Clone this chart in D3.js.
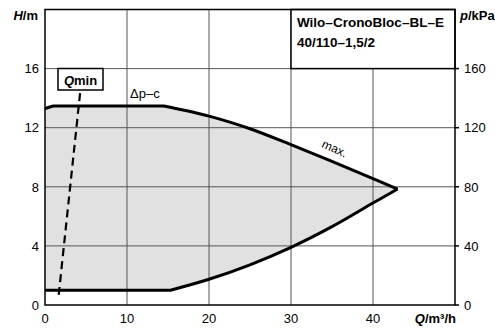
<!DOCTYPE html>
<html>
<head>
<meta charset="utf-8">
<script src="https://cdn.jsdelivr.net/npm/d3@7"></script>
<style>
  body { margin: 0; background: #fff; }
  svg { display: block; font-family: "Liberation Sans", Arial, sans-serif; }
</style>
</head>
<body>
<div id="chart"></div>
<script>
// Data
const xTicks = [0, 10, 20, 30, 40];
const yTicks = [0, 4, 8, 12, 16];
const pTicks = [0, 40, 80, 120, 160];

// Δp-c plateau (straight part of the upper boundary)
const dpcQ = [0, 1, 14.5];
const dpcH = [13.3, 13.47, 13.47];
// max. curve (curved part of the upper boundary)
const maxQ = [14.5, 17, 20, 25, 30, 35, 40, 43];
const maxH = [13.47, 13.18, 12.78, 11.93, 10.85, 9.72, 8.55, 7.85];
// min speed: flat part + curve
const minFlatQ = [0, 15.3];
const minFlatH = [1.0, 1.0];
const minQ = [15.3, 20, 25, 30, 35, 40, 43];
const minH = [1.0, 1.74, 2.72, 3.9, 5.3, 6.9, 7.85];
// Qmin line
const qminQ = [1.67, 4.3];
const qminH = [0.68, 14.45];

const title = ['Wilo–CronoBloc–BL–E', '40/110–1,5/2'];

// Dimensions
const width = 495, height = 329;
const margin = { top: 9.5, right: 40, bottom: 24, left: 45 };

const svg = d3.select('#chart')
    .append('svg')
    .attr('width', width)
    .attr('height', height);

const xScale = d3.scaleLinear().domain([0, 50]).range([margin.left, width - margin.right]);
const yScale = d3.scaleLinear().domain([0, 20]).range([height - margin.bottom, margin.top]);
const pScale = d3.scaleLinear().domain([0, 200]).range([height - margin.bottom, margin.top]);

const pts = (qs, hs) => qs.map((q, i) => [q, hs[i]]);
const straight = d3.line().x(d => xScale(d[0])).y(d => yScale(d[1]));
const smooth = d3.line().x(d => xScale(d[0])).y(d => yScale(d[1])).curve(d3.curveCatmullRom.alpha(0.5));

// join a straight piece and a curved piece into one path string
const joined = (a, b) => a + 'L' + b.slice(1);

const upperPath = joined(straight(pts(dpcQ, dpcH)), smooth(pts(maxQ, maxH)));
const lowerPath = joined(straight(pts(minFlatQ, minFlatH)), smooth(pts(minQ, minH)));
const lowerRev = joined(smooth(pts(minQ, minH).reverse()), straight(pts(minFlatQ, minFlatH).reverse()));

// Area between curves
svg.append('path')
    .attr('d', upperPath + 'L' + lowerRev.slice(1) + 'Z')
    .attr('fill', '#e1e1e1')
    .attr('stroke', 'none');

// Grid lines
svg.selectAll('.vgrid')
    .data(xTicks.filter(d => d > 0))
    .join('line')
        .attr('x1', d => xScale(d)).attr('x2', d => xScale(d))
        .attr('y1', yScale(0)).attr('y2', yScale(20))
        .attr('stroke', '#555').attr('stroke-width', 1);
svg.selectAll('.hgrid')
    .data(yTicks.filter(d => d > 0))
    .join('line')
        .attr('x1', xScale(0)).attr('x2', xScale(50))
        .attr('y1', d => yScale(d)).attr('y2', d => yScale(d))
        .attr('stroke', '#555').attr('stroke-width', 1);

// Title box
svg.append('rect')
    .attr('x', xScale(30)).attr('y', yScale(20))
    .attr('width', xScale(50) - xScale(30))
    .attr('height', yScale(16) - yScale(20))
    .attr('fill', '#fff').attr('stroke', '#000').attr('stroke-width', 1.5);
svg.selectAll('.title')
    .data(title)
    .join('text')
        .attr('x', xScale(30) + 6)
        .attr('y', (d, i) => 26.5 + i * 20)
        .attr('font-size', 13.5).attr('font-weight', 'bold')
        .text(d => d);

// Frame
svg.append('rect')
    .attr('x', xScale(0)).attr('y', yScale(20))
    .attr('width', xScale(50) - xScale(0))
    .attr('height', yScale(0) - yScale(20))
    .attr('fill', 'none').attr('stroke', '#000').attr('stroke-width', 1.5);

// Curves
svg.append('path')
    .attr('d', upperPath)
    .attr('fill', 'none').attr('stroke', '#000').attr('stroke-width', 3)
    .attr('stroke-linejoin', 'round');
svg.append('path')
    .attr('d', lowerPath)
    .attr('fill', 'none').attr('stroke', '#000').attr('stroke-width', 3)
    .attr('stroke-linejoin', 'round');

// Qmin dashed line
svg.append('line')
    .attr('x1', xScale(qminQ[0])).attr('y1', yScale(qminH[0]))
    .attr('x2', xScale(qminQ[1])).attr('y2', yScale(qminH[1]))
    .attr('stroke', '#000').attr('stroke-width', 2.2)
    .attr('stroke-dasharray', '8,5');

// Qmin box
svg.append('rect')
    .attr('x', 58).attr('y', 68.5).attr('width', 45).attr('height', 21.5)
    .attr('fill', '#fff').attr('stroke', '#000').attr('stroke-width', 1.5);
const qmin = svg.append('text')
    .attr('x', 80.5).attr('y', 84.5)
    .attr('text-anchor', 'middle')
    .attr('font-size', 13).attr('font-weight', 'bold');
qmin.append('tspan').attr('font-style', 'italic').text('Q');
qmin.append('tspan').text('min');

// Curve labels
svg.append('text')
    .attr('x', 130).attr('y', 98)
    .attr('font-size', 13)
    .text('Δp–c');
svg.append('text')
    .attr('transform', `translate(321, 147) rotate(24)`)
    .attr('font-size', 12)
    .text('max.');

// Left axis labels
svg.selectAll('.ylab')
    .data(yTicks)
    .join('text')
        .attr('x', 39).attr('y', d => yScale(d) + 4.7)
        .attr('text-anchor', 'end').attr('font-size', 13)
        .text(d => d);

// Bottom axis labels
svg.selectAll('.xlab')
    .data(xTicks)
    .join('text')
        .attr('x', d => xScale(d)).attr('y', 322.5)
        .attr('text-anchor', 'middle').attr('font-size', 13)
        .text(d => d);

// Right axis ticks + labels
svg.selectAll('.ptick')
    .data(pTicks)
    .join('line')
        .attr('x1', xScale(50)).attr('x2', xScale(50) + 4)
        .attr('y1', d => pScale(d)).attr('y2', d => pScale(d))
        .attr('stroke', '#000').attr('stroke-width', 1.5);
svg.selectAll('.plab')
    .data(pTicks)
    .join('text')
        .attr('x', xScale(50) + 9).attr('y', d => pScale(d) + 4.7)
        .attr('font-size', 13)
        .text(d => d);

// Axis titles
const hTitle = svg.append('text')
    .attr('x', 38).attr('y', 20)
    .attr('text-anchor', 'end').attr('font-size', 13).attr('font-weight', 'bold');
hTitle.append('tspan').attr('font-style', 'italic').text('H');
hTitle.append('tspan').text('/m');

const pTitle = svg.append('text')
    .attr('x', 460).attr('y', 20)
    .attr('font-size', 13).attr('font-weight', 'bold');
pTitle.append('tspan').attr('font-style', 'italic').text('p');
pTitle.append('tspan').text('/kPa');

const qTitle = svg.append('text')
    .attr('x', 456).attr('y', 322.5)
    .attr('text-anchor', 'end').attr('font-size', 13).attr('font-weight', 'bold');
qTitle.append('tspan').attr('font-style', 'italic').text('Q');
qTitle.append('tspan').text('/m³/h');
</script>
</body>
</html>
